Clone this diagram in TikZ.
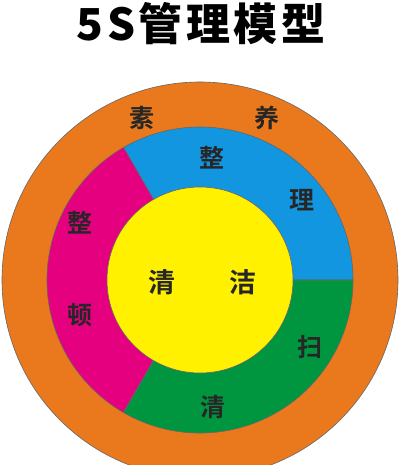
\documentclass[tikz,border=0pt]{standalone}
\usepackage{fontspec}
\newfontfamily\cjk{Noto Sans CJK SC Bold}
\newfontfamily\cjktitle{Noto Sans CJK SC Black}[LetterSpace=8]
\definecolor{suyang}{RGB}{233,121,28}
\definecolor{zhengli}{RGB}{18,150,224}
\definecolor{zhengdun}{RGB}{228,0,127}
\definecolor{qingsao}{RGB}{0,150,64}
\definecolor{qingjie}{RGB}{255,241,0}

\begin{document}
\begin{tikzpicture}[x=1pt,y=1pt]
    \tikzstyle{ring}=[draw=black!60,line width=0.6pt]
    \tikzstyle{hanzi}=[font=\cjk\fontsize{25}{25}\selectfont,text=black!85,inner sep=0pt]
    \clip (-200,-185) rectangle (200,280);
    \fill[white] (-200,-185) rectangle (200,280);
    % outer ring and the three sectors
    \draw[ring,fill=suyang] (0,0) circle (198);
    \draw[ring,fill=zhengli] (0,0) -- (0:153) arc[start angle=0,end angle=120,radius=153] -- cycle;
    \draw[ring,fill=zhengdun] (0,0) -- (120:153) arc[start angle=120,end angle=240,radius=153] -- cycle;
    \draw[ring,fill=qingsao] (0,0) -- (240:153) arc[start angle=240,end angle=360,radius=153] -- cycle;
    \draw[ring,fill=qingjie] (0,0) circle (93);
    % texts
    \node[font=\cjktitle\fontsize{44}{44}\selectfont] (title) at (1,256) {5S管理模型};
    \node[hanzi] (su) at (-58,162) {素};
    \node[hanzi] (yang) at (67,162) {养};
    \node[hanzi] (zheng1) at (12,122) {整};
    \node[hanzi] (li) at (102,80) {理};
    \node[hanzi] (zheng2) at (-120,57) {整};
    \node[hanzi] (dun) at (-120,-35) {顿};
    \node[hanzi,font=\cjk\fontsize{27}{27}\selectfont] (qing1) at (-38,-2) {清};
    \node[hanzi,font=\cjk\fontsize{27}{27}\selectfont] (jie) at (43,-2) {洁};
    \node[hanzi] (sao) at (110,-67) {扫};
    \node[hanzi] (qing2) at (13,-127) {清};
\end{tikzpicture}
\end{document}
